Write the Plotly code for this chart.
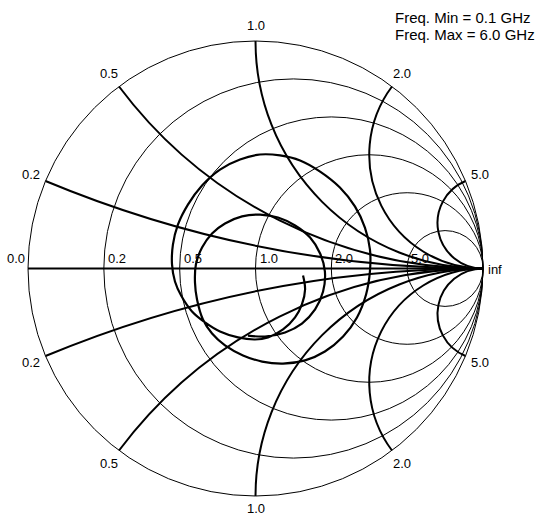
import numpy as np
import plotly.graph_objects as go

# Reflection coefficient samples, 0.1 GHz -> 6.0 GHz
gamma_re = [0.209, 0.218, 0.204, 0.174, 0.121, 0.055, -0.002, -0.077, -0.156, -0.222,
            -0.279, -0.327, -0.354, -0.367, -0.363, -0.341, -0.297, -0.235, -0.156, -0.068,
            0.020, 0.108, 0.196, 0.284, 0.371, 0.437, 0.481, 0.503, 0.503, 0.486,
            0.446, 0.385, 0.305, 0.218, 0.121, 0.029, -0.055, -0.134, -0.191, -0.231,
            -0.257, -0.266, -0.262, -0.235, -0.191, -0.134, -0.059, 0.020, 0.099, 0.174,
            0.240, 0.284, 0.305, 0.297, 0.262, 0.204, 0.130, 0.042, -0.033]
gamma_im = [-0.031, -0.092, -0.158, -0.215, -0.268, -0.303, -0.312, -0.303, -0.277, -0.237,
            -0.189, -0.119, -0.057, 0.018, 0.105, 0.193, 0.281, 0.365, 0.435, 0.479,
            0.501, 0.497, 0.475, 0.426, 0.356, 0.273, 0.180, 0.084, -0.013, -0.114,
            -0.215, -0.299, -0.365, -0.404, -0.418, -0.409, -0.382, -0.338, -0.286, -0.224,
            -0.136, -0.062, 0.018, 0.092, 0.154, 0.198, 0.229, 0.237, 0.224, 0.189,
            0.136, 0.066, -0.013, -0.101, -0.180, -0.242, -0.281, -0.299, -0.295]

real_ticks = [0.2, 0.5, 1.0, 2.0, 5.0]
real_labels = ["0.2", "0.5", "1.0", "2.0", "5.0"]
imag_ticks = [0.2, 0.5, 1.0, 2.0, 5.0]
imag_labels = ["0.2", "0.5", "1.0", "2.0", "5.0"]
freq_min_text = "Freq. Min = 0.1 GHz"
freq_max_text = "Freq. Max = 6.0 GHz"

g = np.array(gamma_re) + 1j * np.array(gamma_im)
z = (1 + g) / (1 - g)

fig = go.Figure()
fig.add_trace(go.Scattersmith(
    real=z.real, imag=z.imag, mode="lines",
    line=dict(color="black", width=2.2, shape="spline"),
    hoverinfo="skip", showlegend=False,
))

FONT = "Liberation Sans, Arial, sans-serif"
ML, MR, MT, MB = 28, 54, 41, 21
W, H = 537 - ML - MR, 517 - MT - MB
fig.update_layout(
    width=537, height=517,
    margin=dict(l=ML, r=MR, t=MT, b=MB),
    paper_bgcolor="white",
    showlegend=False,
    smith=dict(
        domain=dict(x=[0, 1], y=[0, 1]),
        bgcolor="white",
        realaxis=dict(
            tickvals=real_ticks, showgrid=True, gridcolor="black", gridwidth=1,
            showline=True, linecolor="black", linewidth=2, ticks="",
            tickangle=0, tickfont=dict(color="rgba(0,0,0,0)", size=1),
        ),
        imaginaryaxis=dict(
            tickvals=[-v for v in imag_ticks[::-1]] + imag_ticks,
            showgrid=True, gridcolor="black", gridwidth=2,
            showline=True, linecolor="black", linewidth=1, ticks="",
            tickfont=dict(color="rgba(0,0,0,0)", size=1),
        ),
    ),
)

ann = []
lab_font = dict(family=FONT, size=13, color="black")
# real-axis labels: just right of each resistance circle crossing, above the axis
ann.append(dict(x=0.0, y=0.5, xref="paper", yref="paper", text="0.0", showarrow=False,
                xanchor="right", yanchor="bottom", xshift=-1, yshift=1, font=lab_font))
for r, t in zip(real_ticks, real_labels):
    gx = (r - 1) / (r + 1)
    ann.append(dict(x=0.5 + gx / 2, y=0.5, xref="paper", yref="paper", text=t, showarrow=False,
                    xanchor="left", yanchor="bottom", xshift=2, yshift=1, font=lab_font))
ann.append(dict(x=1.0, y=0.5, xref="paper", yref="paper", text="inf", showarrow=False,
                xanchor="left", yanchor="middle", xshift=3, yshift=-1, font=lab_font))
# reactance labels outside the rim
for x, t in zip(imag_ticks, imag_labels):
    for s in (1, -1):
        gam = (1j * s * x - 1) / (1j * s * x + 1)
        k = 1.07
        ys = 3 if (x == 1.0 and s < 0) else 0
        ann.append(dict(x=0.5 + k * gam.real / 2, y=0.5 + k * gam.imag / 2,
                        xref="paper", yref="paper", text=t, showarrow=False,
                        xanchor="center", yanchor="middle", yshift=ys, font=lab_font))
# frequency range note, top right (pixel positions converted to paper fractions)
hdr_font = dict(family=FONT, size=15, color="black")
ann.append(dict(x=(393 - ML) / W, y=(517 - MB - 17.5) / H, xref="paper", yref="paper",
                text=freq_min_text, showarrow=False, xanchor="left", yanchor="middle",
                font=hdr_font))
ann.append(dict(x=(393 - ML) / W, y=(517 - MB - 34.5) / H, xref="paper", yref="paper",
                text=freq_max_text, showarrow=False, xanchor="left", yanchor="middle",
                font=hdr_font))
fig.update_layout(annotations=ann)

fig.write_html(
    "out.html",
    config={"displayModeBar": False},
    post_script="document.body.style.margin='0px';document.body.style.overflow='hidden';",
)
